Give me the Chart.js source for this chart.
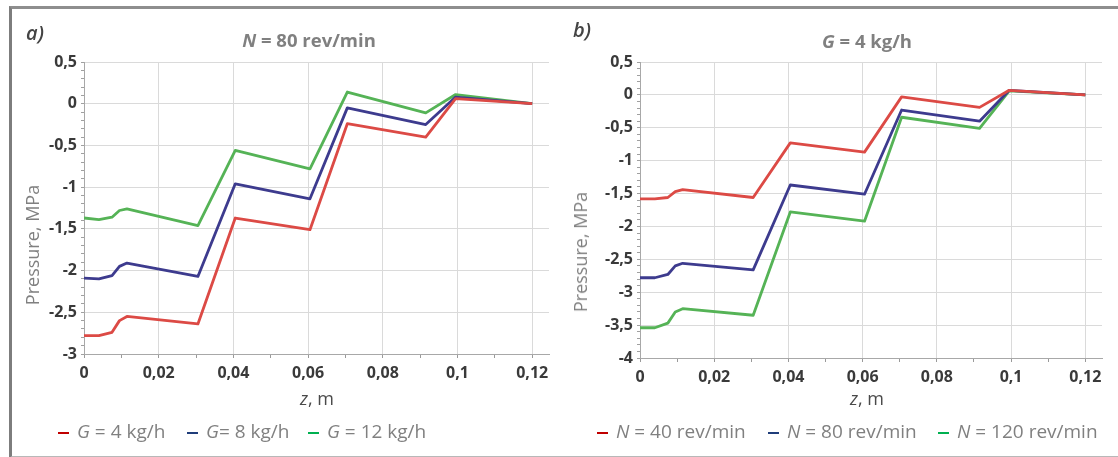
<!DOCTYPE html>
<html>
<head>
<meta charset="utf-8">
<script src="https://cdn.jsdelivr.net/npm/chart.js@4.4.1/dist/chart.umd.min.js"></script>
<style>
  html, body { margin: 0; padding: 0; background: #fff; }
  body { width: 1118px; height: 457px; position: relative; overflow: hidden; font-family: "Open Sans", sans-serif; }
  canvas { position: absolute; top: 0; }
  #frame { position: absolute; left: 9px; top: 6px; width: 1120px; height: 447px;
           border-left: 3px solid #7d7d7d; border-top: 3px solid #8e8e8e; border-bottom: 2px solid #b8b8b8; }
  .lbl { position: absolute; white-space: nowrap; transform: translate(-50%, -50%); }
  .panel { font-style: italic; font-weight: 600; font-size: 20px; color: #444; }
  .title { font-weight: 700; font-size: 18.5px; color: #808080; }
  .xt { font-size: 18px; color: #4a4a4a; }
  .yt { font-size: 18px; color: #808080; transform: translate(-50%, -50%) rotate(-90deg); }
  .leg { position: absolute; top: 431px; transform: translateY(-50%); white-space: nowrap;
         font-size: 19px; color: #808080; }
  .dash { display: inline-block; width: 11px; height: 2px; margin-right: 8px; vertical-align: middle; }
</style>
</head>
<body>
<div id="frame"></div>
<canvas id="chartA" width="559" height="457" style="left:0"></canvas>
<canvas id="chartB" width="559" height="457" style="left:559px"></canvas>
<div id="overlay"></div>
<script>
// DATA
const zValues = [0, 0.004, 0.0075, 0.0095, 0.0115, 0.0305, 0.0405, 0.0605, 0.0705, 0.0915, 0.0995, 0.12];

// a) N = 80 rev/min
const pressureG4  = [-2.78, -2.78, -2.74, -2.60, -2.55, -2.64, -1.37, -1.51, -0.24, -0.40, 0.06, 0];
const pressureG8  = [-2.09, -2.10, -2.06, -1.95, -1.91, -2.07, -0.96, -1.14, -0.05, -0.25, 0.08, 0];
const pressureG12 = [-1.37, -1.39, -1.36, -1.28, -1.26, -1.46, -0.56, -0.78, 0.14, -0.11, 0.11, 0];

// b) G = 4 kg/h
const pressureN40  = [-1.58, -1.58, -1.56, -1.47, -1.44, -1.56, -0.73, -0.87, -0.03, -0.19, 0.07, 0];
const pressureN80  = [-2.78, -2.78, -2.73, -2.60, -2.56, -2.66, -1.37, -1.51, -0.23, -0.40, 0.07, 0];
const pressureN120 = [-3.54, -3.54, -3.47, -3.30, -3.25, -3.35, -1.78, -1.92, -0.34, -0.51, 0.06, 0];

const labelsA = ['G = 4 kg/h', 'G= 8 kg/h', 'G = 12 kg/h'];
const labelsB = ['N = 40 rev/min', 'N = 80 rev/min', 'N = 120 rev/min'];

const xTicks  = [0, 0.02, 0.04, 0.06, 0.08, 0.1, 0.12];
const yTicksA = [0.5, 0, -0.5, -1, -1.5, -2, -2.5, -3];
const yTicksB = [0.5, 0, -0.5, -1, -1.5, -2, -2.5, -3, -3.5, -4];

const lineColors   = ['#dc4a45', '#3d3b8e', '#55b356'];
const legendColors = ['#c00000', '#1f3d7a', '#00b050'];

// HELPERS
const fmt = v => String(+v.toFixed(3)).replace('.', ',');
const isMajor = (v, list) => list.some(t => Math.abs(t - v) < 1e-6);
// major ticks plus minor ticks between them
function minorTicks(list, step) {
  const lo = Math.min(...list), hi = Math.max(...list);
  const n = Math.round((hi - lo) / step);
  const out = [];
  for (let i = 0; i <= n; i++) out.push({ value: +(lo + i * step).toFixed(4) });
  return out;
}

function makeChart(id, series, labels, yTicks, pad, yWidth) {
  const yMin = Math.min(...yTicks), yMax = Math.max(...yTicks);
  return new Chart(document.getElementById(id), {
    type: 'line',
    data: {
      datasets: series.map((s, i) => ({
        label: labels[i],
        data: zValues.map((z, k) => ({ x: z, y: s[k] })),
        borderColor: lineColors[i],
        borderWidth: 2.8,
        pointRadius: 0,
        tension: 0,
        borderJoinStyle: 'round',
        fill: false
      }))
    },
    options: {
      responsive: false,
      animation: false,
      devicePixelRatio: 1,
      layout: { padding: pad },
      plugins: { legend: { display: false }, tooltip: { enabled: false } },
      scales: {
        x: {
          type: 'linear', min: 0, max: 0.1245,
          afterBuildTicks: s => { s.ticks = minorTicks(xTicks, 0.01); },
          afterFit: s => { s.height = 30; },
          ticks: {
            autoSkip: false, maxRotation: 0, padding: 6,
            color: '#3a3a3a', font: { family: 'Open Sans', size: 16, weight: 'bold' },
            callback: v => isMajor(v, xTicks) ? fmt(v) : ''
          },
          grid: {
            color: c => isMajor(c.tick.value, xTicks) ? '#dadada' : 'rgba(0,0,0,0)',
            tickColor: '#9a9a9a', tickLength: 4
          },
          border: { color: '#a8a8a8' }
        },
        y: {
          min: yMin, max: yMax,
          afterBuildTicks: s => { s.ticks = minorTicks(yTicks, 0.1); },
          afterFit: s => { s.width = yWidth; },
          ticks: {
            autoSkip: false, padding: 4,
            color: '#3a3a3a', font: { family: 'Open Sans', size: 16, weight: 'bold' },
            callback: v => isMajor(v, yTicks) ? fmt(v) : ''
          },
          grid: {
            color: c => isMajor(c.tick.value, yTicks) ? '#dadada' : 'rgba(0,0,0,0)',
            tickColor: '#a0a0a0', tickLength: 3
          },
          border: { color: '#a8a8a8' }
        }
      }
    }
  });
}

makeChart('chartA', [pressureG4, pressureG8, pressureG12], labelsA, yTicksA,
  { left: 20, right: 10, top: 62, bottom: 73 }, 64);
makeChart('chartB', [pressureN40, pressureN80, pressureN120], labelsB, yTicksB,
  { left: 20, right: 16, top: 62, bottom: 69 }, 61);

// TEXTS (titles, axis names, legends)
const ov = document.getElementById('overlay');
const italicFirst = s => '<i>' + s[0] + '</i>' + s.slice(1);
function put(cls, html, x, y) {
  const d = document.createElement('div');
  d.className = 'lbl ' + cls;
  d.innerHTML = html;
  d.style.left = x + 'px';
  d.style.top = y + 'px';
  ov.appendChild(d);
}
put('panel', 'a)', 35, 32);
put('panel', 'b)', 582, 29);
put('title', italicFirst('N = 80 rev/min'), 309, 39);
put('title', italicFirst('G = 4 kg/h'), 867, 40);
put('xt', '<i>z</i>, m', 317, 398);
put('xt', '<i>z</i>, m', 867, 398);
put('yt', 'Pressure, MPa', 32, 245);
put('yt', 'Pressure, MPa', 580, 252);

function legend(labels, xs) {
  labels.forEach((t, i) => {
    const d = document.createElement('div');
    d.className = 'leg';
    d.style.left = xs[i] + 'px';
    d.innerHTML = '<span class="dash" style="background:' + legendColors[i] + '"></span><span>' + italicFirst(t) + '</span>';
    ov.appendChild(d);
  });
}
legend(labelsA, [58, 187, 308]);
legend(labelsB, [597, 768, 938]);
</script>
</body>
</html>
